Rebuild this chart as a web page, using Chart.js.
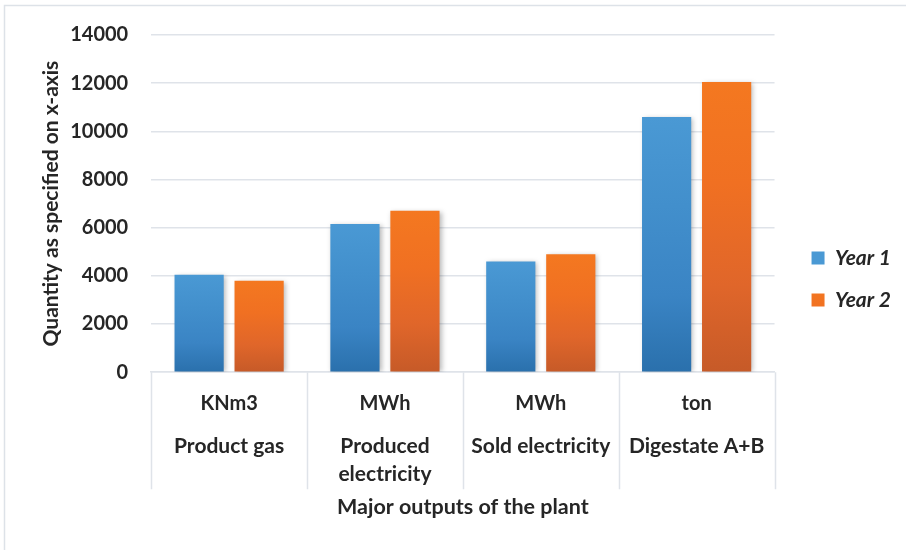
<!DOCTYPE html>
<html>
<head>
<meta charset="utf-8">
<script src="https://cdn.jsdelivr.net/npm/chart.js@4/dist/chart.umd.min.js"></script>
<style>
  html, body { margin: 0; padding: 0; background: #ffffff; }
  #wrap { position: relative; width: 906px; height: 550px; }
  canvas { display: block; }
</style>
</head>
<body>
<div id="wrap"><canvas id="chart" width="906" height="550"></canvas></div>
<script>
// Outputs of the plant, two years of operation
const categories = ['Product gas', ['Produced', 'electricity'], 'Sold electricity', 'Digestate A+B'];
const units = ['KNm3', 'MWh', 'MWh', 'ton'];
const year1 = [4050, 6150, 4600, 10600];
const year2 = [3800, 6700, 4900, 12050];
const seriesNames = ['Year 1', 'Year 2'];

const GRID = '#dfe3e9';
const TEXT = '#262626';
const FONT = 'Lato, "Open Sans", "Liberation Sans", sans-serif';

// vertical gradient spanning each bar from its top to the baseline
function barFill(stops, solid) {
  return function (ctx) {
    const chart = ctx.chart;
    const y = chart.scales && chart.scales.y;
    if (ctx.type !== 'data' || !y) return solid;
    const top = y.getPixelForValue(ctx.raw);
    const bottom = y.getPixelForValue(0);
    if (!isFinite(top) || !isFinite(bottom) || bottom - top < 1) return solid;
    const g = chart.ctx.createLinearGradient(0, top, 0, bottom);
    stops.forEach(([p, c]) => g.addColorStop(p, c));
    return g;
  };
}

const blueStops = [[0, '#4a99d4'], [0.35, '#428fcc'], [0.7, '#3a84c4'], [1, '#2a70ac']];
const orangeStops = [[0, '#f47820'], [0.35, '#f07022'], [0.7, '#e0662a'], [1, '#c65a28']];

// white page with the chart frame along the top and left edges
const framePlugin = {
  id: 'frame',
  beforeDraw(chart) {
    const c = chart.ctx;
    c.save();
    c.fillStyle = '#ffffff';
    c.fillRect(0, 0, chart.width, chart.height);
    c.strokeStyle = '#dde2e8';
    c.lineWidth = 1.5;
    c.beginPath();
    c.moveTo(4.5, chart.height);
    c.lineTo(4.5, 5.5);
    c.lineTo(chart.width, 5.5);
    c.stroke();
    c.restore();
  }
};

// soft drop shadow behind the bars
const shadowPlugin = {
  id: 'barShadow',
  beforeDatasetsDraw(chart) {
    const c = chart.ctx;
    c.save();
    c.shadowColor = 'rgba(0,0,0,0.28)';
    c.shadowBlur = 5;
    c.shadowOffsetX = 2;
    c.shadowOffsetY = 1;
  },
  afterDatasetsDraw(chart) {
    chart.ctx.restore();
  }
};

// category dividers running down through the two label rows
const dividerPlugin = {
  id: 'dividers',
  afterDraw(chart) {
    const x = chart.scales.x;
    const c = chart.ctx;
    const n = x.getLabels().length;
    const top = chart.chartArea.bottom;
    const bottom = top + 117;
    c.save();
    c.strokeStyle = GRID;
    c.lineWidth = 1.5;
    c.beginPath();
    for (let i = 0; i <= n; i++) {
      const px = Math.round(x.left + i * (x.right - x.left) / n) + 0.5;
      c.moveTo(px, top);
      c.lineTo(px, bottom);
    }
    c.stroke();
    c.restore();
  }
};

new Chart(document.getElementById('chart'), {
  type: 'bar',
  data: {
    labels: units,
    datasets: [
      {
        label: seriesNames[0],
        data: year1,
        backgroundColor: barFill(blueStops, '#3a86c6'),
        xAxisID: 'x',
        yAxisID: 'y'
      },
      {
        label: seriesNames[1],
        data: year2,
        backgroundColor: barFill(orangeStops, '#e96a25'),
        xAxisID: 'x',
        yAxisID: 'y'
      }
    ]
  },
  options: {
    responsive: false,
    animation: false,
    devicePixelRatio: 1,
    categoryPercentage: 0.77,
    barPercentage: 0.82,
    layout: { padding: { left: 39, top: 24, right: 5, bottom: 30 } },
    plugins: {
      tooltip: { enabled: false },
      legend: {
        position: 'right',
        // blank title row nudges the two entries a little lower
        title: { display: true, text: '', font: { size: 10 }, padding: 1 },
        labels: {
          boxWidth: 13,
          boxHeight: 13,
          padding: 21,
          color: TEXT,
          font: { family: FONT, size: 21, weight: 'bold', style: 'italic' }
        }
      }
    },
    scales: {
      y: {
        min: 0,
        max: 14000,
        ticks: {
          stepSize: 2000,
          padding: 23,
          color: TEXT,
          callback: (v) => String(v),
          font: { family: FONT, size: 20, weight: 'bold' }
        },
        grid: { color: GRID, lineWidth: 1.5, drawTicks: false },
        border: { display: false },
        title: {
          display: true,
          text: 'Quantity as specified on x-axis',
          color: TEXT,
          padding: { top: 0, bottom: -17 },
          font: { family: FONT, size: 21, weight: 'bold' }
        }
      },
      // empty strip between the plot and the legend
      gap: {
        type: 'linear',
        position: 'right',
        display: true,
        ticks: { display: false },
        grid: { display: false, drawTicks: false },
        border: { display: false },
        afterFit(scale) { scale.width = 16; }
      },
      x: {
        type: 'category',
        position: 'bottom',
        offset: true,
        grid: { display: false, drawTicks: false },
        border: { display: true, color: GRID, width: 1.5 },
        ticks: {
          padding: 19,
          color: TEXT,
          maxRotation: 0,
          font: { family: FONT, size: 20, weight: 'bold' }
        }
      },
      x2: {
        type: 'category',
        position: 'bottom',
        labels: categories,
        offset: true,
        grid: { display: false, drawTicks: false },
        border: { display: false },
        ticks: {
          padding: -2,
          color: TEXT,
          maxRotation: 0,
          autoSkip: false,
          font: { family: FONT, size: 21, weight: 'bold', lineHeight: 1.333 }
        },
        title: {
          display: true,
          text: 'Major outputs of the plant',
          color: TEXT,
          padding: { top: 8, bottom: 0 },
          font: { family: FONT, size: 21.5, weight: 'bold' }
        }
      }
    }
  },
  plugins: [framePlugin, shadowPlugin, dividerPlugin]
});
</script>
</body>
</html>
